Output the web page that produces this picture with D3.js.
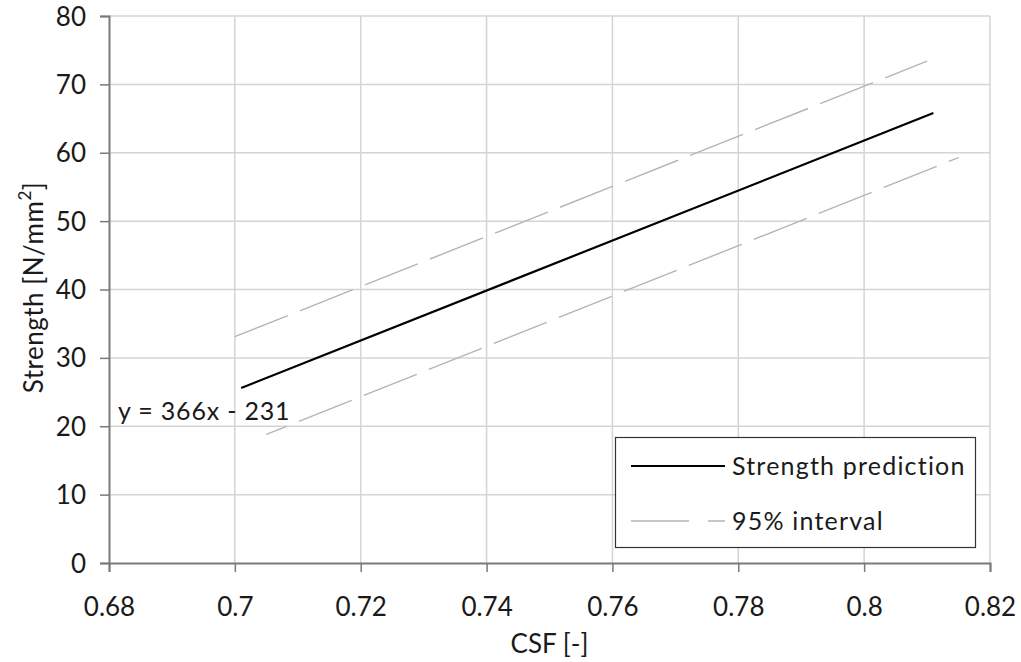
<!DOCTYPE html>
<html>
<head>
<meta charset="utf-8">
<script src="https://cdn.jsdelivr.net/npm/d3@7"></script>
<style>
  html, body { margin: 0; padding: 0; background: #fff; }
  svg { display: block; font-family: Lato, "Open Sans", sans-serif; }
</style>
</head>
<body>
<svg id="chart" width="1021" height="662"></svg>
<script>
// Axis ticks
const xTicks = [0.68, 0.70, 0.72, 0.74, 0.76, 0.78, 0.80, 0.82];
const xTickLabels = ["0.68", "0.7", "0.72", "0.74", "0.76", "0.78", "0.8", "0.82"];
const yTicks = [0, 10, 20, 30, 40, 50, 60, 70, 80];

// Strength prediction line (y = 366x - 231)
const predX = [0.701, 0.811];
const predY = [25.6, 65.8];

// 95% interval bounds
const upperX = [0.700, 0.810];
const upperY = [33.1, 73.4];
const lowerX = [0.705, 0.815];
const lowerY = [18.8, 59.3];

const equationText = "y = 366x - 231";
const legendLabels = ["Strength prediction", "95% interval"];

const svg = d3.select("#chart");
const margin = { left: 109, right: 31, top: 16, bottom: 99 };
const W = 1021, H = 662;

const x = d3.scaleLinear().domain([0.68, 0.82]).range([margin.left, W - margin.right]);
const y = d3.scaleLinear().domain([0, 80]).range([H - margin.bottom, margin.top]);

const gridColor = "#d4d4d4";
const axisColor = "#7a7a7a";
const textColor = "#1a1a1a";

// Gridlines
svg.append("g").selectAll("line.v").data(xTicks.slice(1)).join("line")
  .attr("x1", d => x(d)).attr("x2", d => x(d))
  .attr("y1", y(80)).attr("y2", y(0))
  .attr("stroke", gridColor).attr("stroke-width", 1.5);
svg.append("g").selectAll("line.h").data(yTicks.slice(1)).join("line")
  .attr("x1", x(0.68)).attr("x2", x(0.82))
  .attr("y1", d => y(d)).attr("y2", d => y(d))
  .attr("stroke", gridColor).attr("stroke-width", 1.5);

// Axes
const xAxis = d3.axisBottom(x).tickValues(xTicks).tickSize(9)
  .tickFormat((d, i) => xTickLabels[i]);
const gx = svg.append("g").attr("transform", `translate(0,${y(0)})`).call(xAxis);
gx.select(".domain").attr("stroke", axisColor).attr("stroke-width", 2);
gx.selectAll(".tick line").attr("stroke", axisColor).attr("stroke-width", 1.5);
gx.selectAll(".tick text").attr("fill", textColor).attr("font-size", 26)
  .attr("font-family", "Lato, sans-serif").attr("dy", "1.05em").attr("y", 26);

const yAxis = d3.axisLeft(y).tickValues(yTicks).tickSize(9);
const gy = svg.append("g").attr("transform", `translate(${x(0.68)},0)`).call(yAxis);
gy.select(".domain").attr("stroke", axisColor).attr("stroke-width", 2);
gy.selectAll(".tick line").attr("stroke", axisColor).attr("stroke-width", 1.5);
gy.selectAll(".tick text").attr("fill", textColor).attr("font-size", 26)
  .attr("font-family", "Lato, sans-serif").attr("x", -23).attr("dy", "0.35em");

// Series lines
const line = d3.line().x(d => x(d[0])).y(d => y(d[1]));
const dash = "57,13";

svg.append("path").datum(d3.zip(upperX, upperY))
  .attr("d", line).attr("fill", "none")
  .attr("stroke", "#b4b4b4").attr("stroke-width", 1.4)
  .attr("stroke-dasharray", dash);
svg.append("path").datum(d3.zip(lowerX, lowerY))
  .attr("d", line).attr("fill", "none")
  .attr("stroke", "#b4b4b4").attr("stroke-width", 1.4)
  .attr("stroke-dasharray", dash).attr("stroke-dashoffset", 35);
svg.append("path").datum(d3.zip(predX, predY))
  .attr("d", line).attr("fill", "none")
  .attr("stroke", "#000").attr("stroke-width", 2.2);

// Regression equation
svg.append("text").attr("x", 118).attr("y", 420)
  .attr("fill", textColor).attr("font-size", 25).attr("letter-spacing", 0.8)
  .text(equationText);

// Axis titles
svg.append("text").attr("x", (x(0.68) + x(0.82)) / 2).attr("y", 653)
  .attr("text-anchor", "middle").attr("fill", textColor).attr("font-size", 26)
  .text("CSF [-]");

const yt = svg.append("text")
  .attr("transform", `translate(43, ${y(40) - 2}) rotate(-90)`)
  .attr("text-anchor", "middle").attr("fill", textColor).attr("font-size", 26)
  .attr("letter-spacing", 0.5);
yt.append("tspan").text("Strength [N/mm");
yt.append("tspan").attr("font-size", 17).attr("dy", -12).text("2");
yt.append("tspan").attr("dy", 12).text("]");

// Legend
const lg = svg.append("g");
lg.append("rect").attr("x", 615.5).attr("y", 437.5).attr("width", 360).attr("height", 110)
  .attr("fill", "#fff").attr("stroke", "#333").attr("stroke-width", 1.2);
const rows = [
  { label: legendLabels[0], color: "#000", width: 2.2, dash: null, y: 466 },
  { label: legendLabels[1], color: "#b4b4b4", width: 1.4, dash: "58,19", y: 521 }
];
rows.forEach(r => {
  const l = lg.append("line").attr("x1", 631).attr("x2", 725).attr("y1", r.y).attr("y2", r.y)
    .attr("stroke", r.color).attr("stroke-width", r.width);
  if (r.dash) l.attr("stroke-dasharray", r.dash);
  lg.append("text").attr("x", 732).attr("y", r.y).attr("dy", "0.35em")
    .attr("fill", textColor).attr("font-size", 25).attr("letter-spacing", 1.2)
    .text(r.label);
});
</script>
</body>
</html>
